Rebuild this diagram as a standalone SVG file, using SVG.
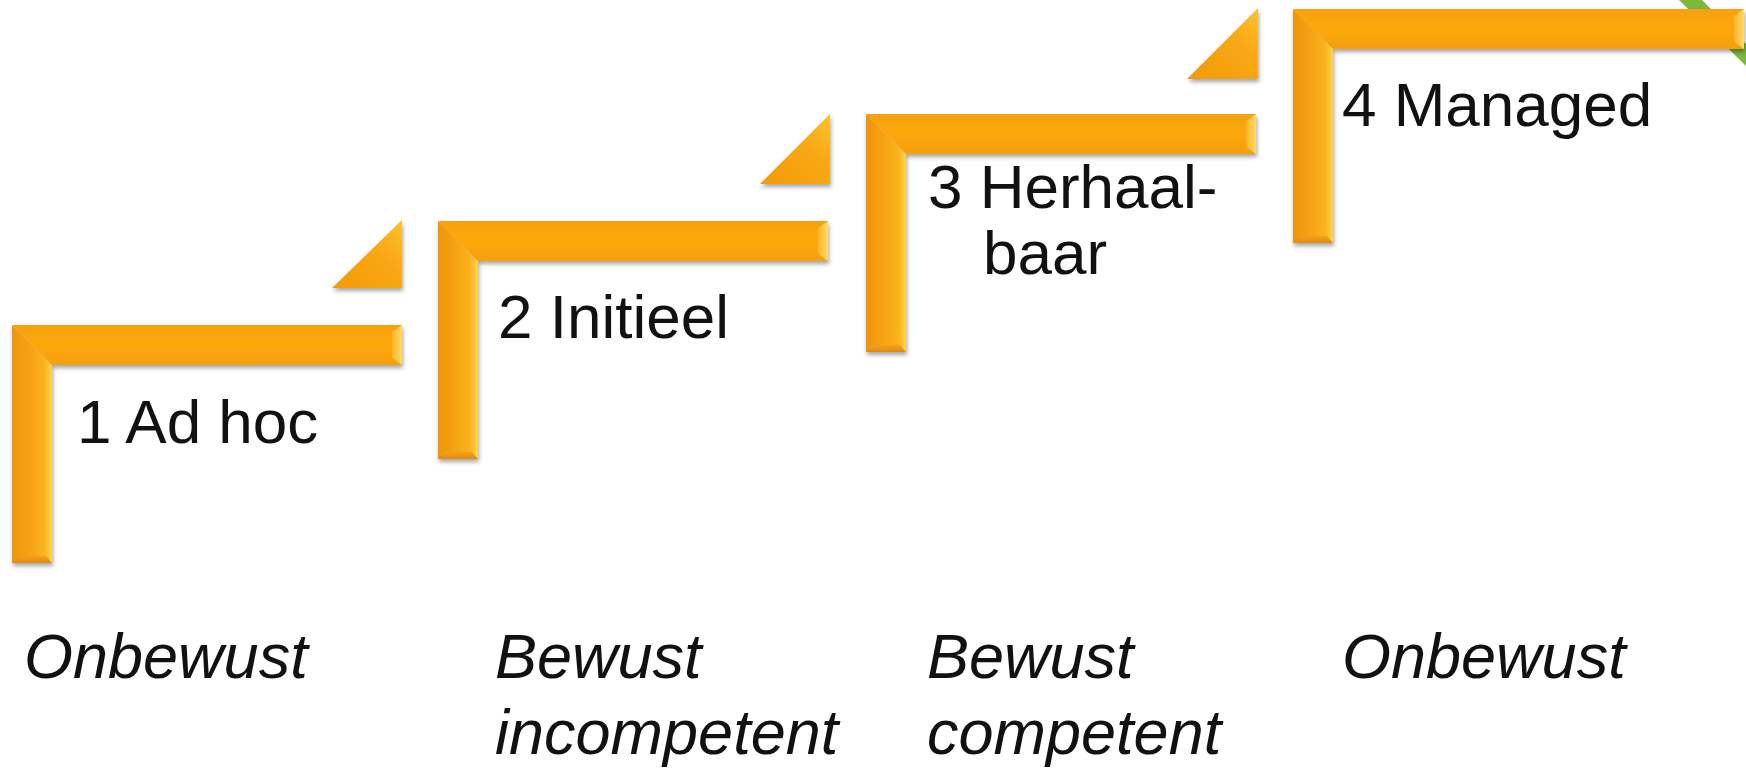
<svg xmlns="http://www.w3.org/2000/svg" width="1746" height="770" viewBox="0 0 1746 770">
<defs>
<linearGradient id="gV" x1="0" y1="0" x2="1" y2="0">
<stop offset="0" stop-color="#EE950F"/>
<stop offset="0.45" stop-color="#F6A313"/>
<stop offset="0.8" stop-color="#FAB21E"/>
<stop offset="1" stop-color="#FFD64C"/>
</linearGradient>
<linearGradient id="gH" x1="0" y1="0" x2="0" y2="1">
<stop offset="0" stop-color="#F7A20C"/>
<stop offset="0.5" stop-color="#FCA806"/>
<stop offset="1" stop-color="#F59F12"/>
</linearGradient>
<linearGradient id="gEnd" x1="0" y1="0" x2="1" y2="0">
<stop offset="0" stop-color="#FBB22A"/>
<stop offset="1" stop-color="#FFDD66"/>
</linearGradient>
<linearGradient id="gBot" x1="0" y1="0" x2="0" y2="1">
<stop offset="0" stop-color="#F3A21C"/>
<stop offset="1" stop-color="#E08A10"/>
</linearGradient>
<linearGradient id="gTri" x1="0" y1="1" x2="1" y2="0">
<stop offset="0" stop-color="#F29A10"/>
<stop offset="0.6" stop-color="#F8A812"/>
<stop offset="1" stop-color="#FCC232"/>
</linearGradient>
<filter id="sh" x="-10%" y="-10%" width="120%" height="130%">
<feDropShadow dx="1" dy="3" stdDeviation="2" flood-color="#000" flood-opacity="0.35"/>
</filter>
<g id="step">
<polygon points="0,0 40,40 40,238 0,238" fill="url(#gV)"/>
<polygon points="0,0 390,0 390,40 40,40" fill="url(#gH)"/>
<polygon points="380,7 390,0 390,40 380,33" fill="url(#gEnd)"/>
<polygon points="0,238 6,231 34,231 40,238" fill="url(#gBot)"/>
</g>
</defs>
<style>
.lbl{font-family:"Liberation Sans",Arial,sans-serif;font-size:62px;fill:#111}
.it{font-family:"Liberation Sans",Arial,sans-serif;font-size:63px;font-style:italic;fill:#111}
</style>
<rect width="1746" height="770" fill="#fff"/>
<polygon points="1679,0 1702,0 1746,44 1746,66" fill="#7CB83F"/>
<g id="connectors"/>
<g id="tri1" filter="url(#sh)"><polygon points="332,288 402,288 402,220" fill="url(#gTri)"/></g>
<g id="tri2" filter="url(#sh)"><polygon points="760,184 830,184 830,114" fill="url(#gTri)"/></g>
<g id="tri3" filter="url(#sh)"><polygon points="1187,79 1258,79 1258,8" fill="url(#gTri)"/></g>
<g id="step1">
<g filter="url(#sh)"><use href="#step" x="12" y="325"/></g>
<text class="lbl" x="77" y="443">1 Ad hoc</text>
</g>
<g id="step2">
<g filter="url(#sh)"><use href="#step" x="438" y="221"/></g>
<text class="lbl" x="498" y="338">2 Initieel</text>
</g>
<g id="step3">
<g filter="url(#sh)"><use href="#step" x="866" y="114"/></g>
<text class="lbl" x="928" y="208">3 Herhaal-</text>
<text class="lbl" x="983" y="274">baar</text>
</g>
<g id="step4">
<g filter="url(#sh)">
<polygon points="1293,9 1333,49 1333,243 1293,243" fill="url(#gV)"/>
<polygon points="1293,9 1744,9 1744,49 1333,49" fill="url(#gH)"/>
<polygon points="1734,16 1744,9 1744,49 1734,42" fill="url(#gEnd)"/>
<polygon points="1293,243 1299,236 1327,236 1333,243" fill="url(#gBot)"/>
</g>
<text class="lbl" x="1342" y="126">4 Managed</text>
</g>
<g id="labels">
<text class="it" x="24" y="678">Onbewust</text>
<text class="it" x="495" y="678">Bewust</text>
<text class="it" x="495" y="754">incompetent</text>
<text class="it" x="927" y="678">Bewust</text>
<text class="it" x="927" y="754">competent</text>
<text class="it" x="1342" y="678">Onbewust</text>
</g>
</svg>
